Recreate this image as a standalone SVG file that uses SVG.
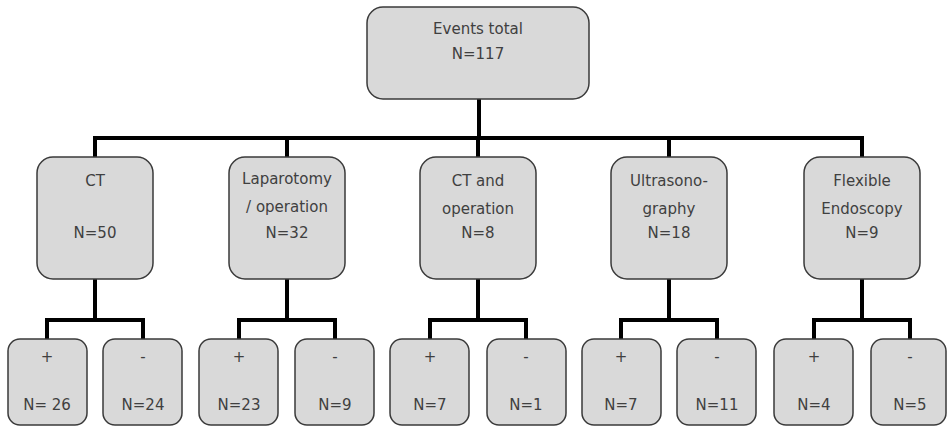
<svg xmlns="http://www.w3.org/2000/svg" width="947" height="426" viewBox="0 0 947 426">
<style>
.box{fill:#d9d9d9;stroke:#3a3a3a;stroke-width:1.5}
.t{font-family:"DejaVu Sans",sans-serif;font-size:15px;fill:#404040;text-anchor:middle}
.c{fill:none;stroke:#000;stroke-width:4;stroke-linejoin:miter}
</style>
<rect width="947" height="426" fill="#fff"/>
<g id="connectors">
<path class="c" d="M479 99V138M95 160V138H862V160M287 138V160M478 138V160M669 138V160"/>
<path class="c" d="M95 279V320M47 340V320H143V340"/>
<path class="c" d="M287 279V320M239 340V320H335V340"/>
<path class="c" d="M478 279V320M430 340V320H526V340"/>
<path class="c" d="M669 279V320M621 340V320H717V340"/>
<path class="c" d="M862 279V320M814 340V320H910V340"/>
</g>
<g id="total"><rect class="box" x="367" y="7" width="222" height="92" rx="16"/><text class="t" x="478" y="34">Events total</text><text class="t" x="478" y="59">N=117</text></g>
<g id="ct"><rect class="box" x="37" y="157" width="116" height="122" rx="16"/><text class="t" x="95" y="186">CT</text><text class="t" x="95" y="238">N=50</text></g>
<g id="lap"><rect class="box" x="229" y="157" width="116" height="122" rx="16"/><text class="t" x="287" y="184">Laparotomy</text><text class="t" x="287" y="212">/ operation</text><text class="t" x="287" y="238">N=32</text></g>
<g id="ctop"><rect class="box" x="420" y="157" width="116" height="122" rx="16"/><text class="t" x="478" y="186">CT and</text><text class="t" x="478" y="214">operation</text><text class="t" x="478" y="238">N=8</text></g>
<g id="us"><rect class="box" x="611" y="157" width="116" height="122" rx="16"/><text class="t" x="669" y="186">Ultrasono-</text><text class="t" x="669" y="214">graphy</text><text class="t" x="669" y="238">N=18</text></g>
<g id="fe"><rect class="box" x="804" y="157" width="116" height="122" rx="16"/><text class="t" x="862" y="186">Flexible</text><text class="t" x="862" y="214">Endoscopy</text><text class="t" x="862" y="238">N=9</text></g>
<g id="ct-pos"><rect class="box" x="8" y="339" width="79" height="86" rx="12"/><text class="t" x="47" y="362">+</text><text class="t" x="47" y="410">N= 26</text></g>
<g id="ct-neg"><rect class="box" x="103" y="339" width="79" height="86" rx="12"/><text class="t" x="143" y="362">-</text><text class="t" x="143" y="410">N=24</text></g>
<g id="lap-pos"><rect class="box" x="199" y="339" width="79" height="86" rx="12"/><text class="t" x="239" y="362">+</text><text class="t" x="239" y="410">N=23</text></g>
<g id="lap-neg"><rect class="box" x="295" y="339" width="79" height="86" rx="12"/><text class="t" x="335" y="362">-</text><text class="t" x="335" y="410">N=9</text></g>
<g id="ctop-pos"><rect class="box" x="390" y="339" width="79" height="86" rx="12"/><text class="t" x="430" y="362">+</text><text class="t" x="430" y="410">N=7</text></g>
<g id="ctop-neg"><rect class="box" x="487" y="339" width="79" height="86" rx="12"/><text class="t" x="526" y="362">-</text><text class="t" x="526" y="410">N=1</text></g>
<g id="us-pos"><rect class="box" x="582" y="339" width="79" height="86" rx="12"/><text class="t" x="621" y="362">+</text><text class="t" x="621" y="410">N=7</text></g>
<g id="us-neg"><rect class="box" x="677" y="339" width="79" height="86" rx="12"/><text class="t" x="717" y="362">-</text><text class="t" x="717" y="410">N=11</text></g>
<g id="fe-pos"><rect class="box" x="774" y="339" width="79" height="86" rx="12"/><text class="t" x="814" y="362">+</text><text class="t" x="814" y="410">N=4</text></g>
<g id="fe-neg"><rect class="box" x="871" y="339" width="75" height="86" rx="12"/><text class="t" x="910" y="362">-</text><text class="t" x="910" y="410">N=5</text></g>
</svg>
